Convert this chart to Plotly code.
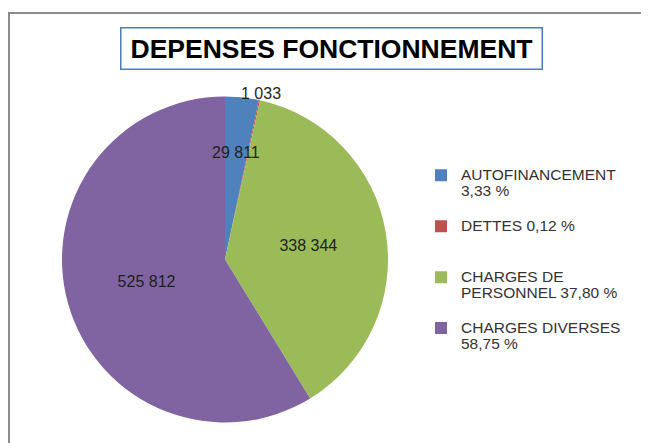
import math
import plotly.graph_objects as go

# Data
categories = ["AUTOFINANCEMENT", "DETTES", "CHARGES DE<br>PERSONNEL", "CHARGES DIVERSES"]
values = [29811, 1033, 338344, 525812]
colors = ["#4F81BD", "#C0504D", "#9BBB59", "#8064A2"]
title_text = "DEPENSES FONCTIONNEMENT"

W, H = 649, 443
OFF = 8  # browser body margin compensation

total = sum(values)
pcts = [f"{v / total * 100:.2f}".replace(".", ",") + " %" for v in values]

seps = ["<br>", " ", " ", "<br>"]
legend_labels = []
for c, p, s in zip(categories, pcts, seps):
    body = f"{c}{s}{p}"
    nlines = body.count("<br>") + 1
    pad = "<br> " * (3 - nlines)
    legend_labels.append(f"<span style='font-size:15.5px'>{body}</span>{pad}")

FONT = "Liberation Sans, Arial, sans-serif"

# pie geometry (pixels, figure coords)
cx_px, cy_px, r_px = 225 - OFF, 259.5 - OFF, 163
dom_x = [(cx_px - r_px) / W, (cx_px + r_px) / W]
dom_y = [(H - cy_px - r_px) / H, (H - cy_px + r_px) / H]

# small slices: labels placed by angle computed from the data
small_idx = [0, 1]
radius_factor = {0: 0.66, 1: 1.04}
texttemplates = ["" if i in small_idx else "%{value:,}" for i in range(len(values))]

annotations = []
cum = 0
for i, v in enumerate(values):
    mid = (cum + v / 2) / total * 2 * math.pi
    cum += v
    if i in small_idx:
        k = radius_factor[i]
        px = cx_px + k * r_px * math.sin(mid)
        py = cy_px - k * r_px * math.cos(mid)
        annotations.append(dict(
            text=f"{v:,}".replace(",", " "),
            x=px / W, y=1 - py / H, xref="paper", yref="paper",
            xanchor="center", yanchor="middle", showarrow=False,
            font=dict(family=FONT, size=16, color="#1f1f1f"),
        ))

annotations.append(dict(
    text=f"<b>{title_text}</b>",
    x=(331 - OFF) / W,
    y=1 - (48.5 - OFF) / H,
    xref="paper", yref="paper",
    xanchor="center", yanchor="middle",
    showarrow=False,
    font=dict(family=FONT, size=26.5, color="#000000"),
    bordercolor="#4a7ebb",
    borderwidth=1.5,
    width=418,
    height=38,
    bgcolor="white",
))

fig = go.Figure(
    go.Pie(
        labels=legend_labels,
        values=values,
        sort=False,
        direction="clockwise",
        rotation=0,
        marker=dict(colors=colors, line=dict(width=0)),
        texttemplate=texttemplates,
        textposition="inside",
        insidetextorientation="horizontal",
        textfont=dict(family=FONT, size=16, color="#1f1f1f"),
        domain=dict(x=dom_x, y=dom_y),
        hoverinfo="label+value+percent",
        showlegend=True,
    )
)

fig.update_layout(
    width=W,
    height=H,
    margin=dict(l=0, r=0, t=0, b=0),
    paper_bgcolor="white",
    separators=", ",
    uniformtext=dict(minsize=16, mode="show"),
    showlegend=True,
    legend=dict(
        x=(421 - OFF) / W,
        y=1 - (160.7 - OFF) / H,
        xanchor="left",
        yanchor="top",
        valign="top",
        traceorder="normal",
        font=dict(family=FONT, size=12.3, color="#333333"),
        bgcolor="rgba(0,0,0,0)",
    ),
    annotations=annotations,
    shapes=[
        dict(
            type="rect",
            xref="paper", yref="paper",
            x0=(9 - OFF) / W, x1=1.2,
            y0=-0.2, y1=1 - (13 - OFF) / H,
            line=dict(color="#8c8c8c", width=2),
            layer="below",
        )
    ],
)

fig.write_html("out.html")
